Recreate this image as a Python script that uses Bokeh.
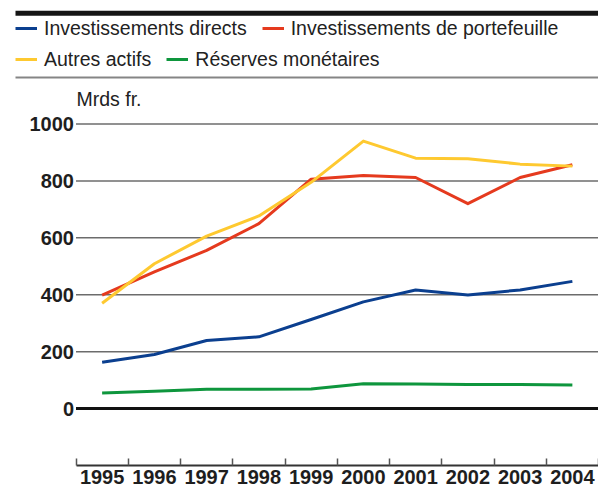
from bokeh.plotting import figure
from bokeh.models import FixedTicker, Legend, LegendItem, Label, Range1d
from bokeh.embed import file_html
from bokeh.resources import INLINE

# ---- data ----
years = ["1995", "1996", "1997", "1998", "1999", "2000", "2001", "2002", "2003", "2004"]
direct = [163, 190, 239, 252, 313, 375, 417, 399, 417, 447]
portfolio = [399, 480, 556, 650, 806, 819, 812, 720, 812, 857]
other = [370, 509, 606, 677, 795, 940, 880, 878, 859, 852]
reserves = [55, 61, 68, 68, 69, 87, 86, 85, 85, 83]
y_ticks = [0, 200, 400, 600, 800, 1000]
series_names = ["Investissements directs", "Investissements de portefeuille",
                "Autres actifs", "Réserves monétaires"]
unit_label = "Mrds fr."

colors = ["#0b3f8f", "#e53a1e", "#fec930", "#0e963d"]
FONT = "Liberation Sans"
W, H = 598, 486
n = len(years)
xs = [i + 0.5 for i in range(n)]

# frame spans the whole width; the category area starts 75.5px from the left
left_pad = 75.5
x_start = -left_pad * n / (W - left_pad)
Y_BOT, Y_TOP = -200, 1434
FRAME_H = 464.0

def px_x(px):
    return x_start + px * (n - x_start) / W

def px_y(py):
    return Y_TOP - py * (Y_TOP - Y_BOT) / FRAME_H

p = figure(width=W, height=H, x_range=Range1d(x_start, n), y_range=Range1d(Y_BOT, Y_TOP),
           output_backend="svg", toolbar_location=None,
           min_border_left=0, min_border_right=0, min_border_top=0, min_border_bottom=0)
p.outline_line_color = None
p.xgrid.visible = False
p.ygrid.visible = False

# horizontal grid lines limited to the category area
grid_vals = y_ticks[1:]
p.segment(x0=[0] * len(grid_vals), x1=[n] * len(grid_vals), y0=grid_vals, y1=grid_vals,
          line_color="#6c6c6c", line_width=1.5, level="underlay")
p.segment(x0=[0], x1=[n], y0=[y_ticks[0]], y1=[y_ticks[0]],
          line_color="#111111", line_width=3, level="underlay")

# y axis fixed at the left edge of the category area
p.yaxis.fixed_location = 0
p.yaxis.ticker = FixedTicker(ticks=y_ticks)
p.yaxis.axis_line_color = None
p.yaxis.major_tick_line_color = None
p.yaxis.minor_tick_line_color = None
p.yaxis.major_tick_in = 0
p.yaxis.major_tick_out = 0
p.yaxis.major_label_standoff = 2
p.yaxis.major_label_text_font = FONT
p.yaxis.major_label_text_font_style = "bold"
p.yaxis.major_label_text_font_size = "20px"
p.yaxis.major_label_text_color = "#1e1e1e"

# x axis: ticks on category boundaries, labels at centres
p.xaxis.bounds = (0, n)
p.xaxis.ticker = FixedTicker(ticks=xs, minor_ticks=list(range(n + 1)))
p.xaxis.major_label_overrides = {x: y for x, y in zip(xs, years)}
p.xaxis.axis_line_color = "#333333"
p.xaxis.axis_line_width = 2
p.xaxis.major_tick_line_color = None
p.xaxis.major_tick_in = 0
p.xaxis.major_tick_out = 0
p.xaxis.minor_tick_in = 7
p.xaxis.minor_tick_out = 0
p.xaxis.minor_tick_line_color = "#555555"
p.xaxis.minor_tick_line_width = 1.5
p.xaxis.major_label_standoff = 4
p.xaxis.major_label_text_font = FONT
p.xaxis.major_label_text_font_style = "bold"
p.xaxis.major_label_text_font_size = "20px"
p.xaxis.major_label_text_color = "#1e1e1e"

renderers = []
for vals, col in zip([direct, portfolio, other, reserves], colors):
    renderers.append(p.line(xs, vals, line_color=col, line_width=3, line_join="round"))

items = [LegendItem(label=s, renderers=[r]) for s, r in zip(series_names, renderers)]

def make_legend(its, loc):
    return Legend(items=its, orientation="horizontal", location=loc,
                  padding=0, margin=0, spacing=15, label_standoff=7,
                  glyph_width=22, glyph_height=24, label_height=24,
                  label_text_font=FONT, label_text_font_size="19.5px",
                  label_text_color="#222222",
                  border_line_color=None, background_fill_alpha=0)

p.add_layout(make_legend(items[:2], (15, 425)))
p.add_layout(make_legend(items[2:], (15, 394)))

p.add_layout(Label(x=76, y=367, x_units="screen", y_units="screen", text=unit_label,
                   text_font=FONT, text_font_size="19.5px", text_color="#222222",
                   text_baseline="alphabetic"))

# rules above and below the legend (decoration, placed in pixels, drawn last)
p.segment(x0=[px_x(15)], x1=[px_x(W)], y0=[px_y(12.8)], y1=[px_y(12.8)],
          line_color="#151515", line_width=5, level="overlay")
p.segment(x0=[px_x(15)], x1=[px_x(W)], y0=[px_y(76.8)], y1=[px_y(76.8)],
          line_color="#858585", line_width=2, level="overlay")

open("out.html", "w").write(file_html(p, INLINE))
